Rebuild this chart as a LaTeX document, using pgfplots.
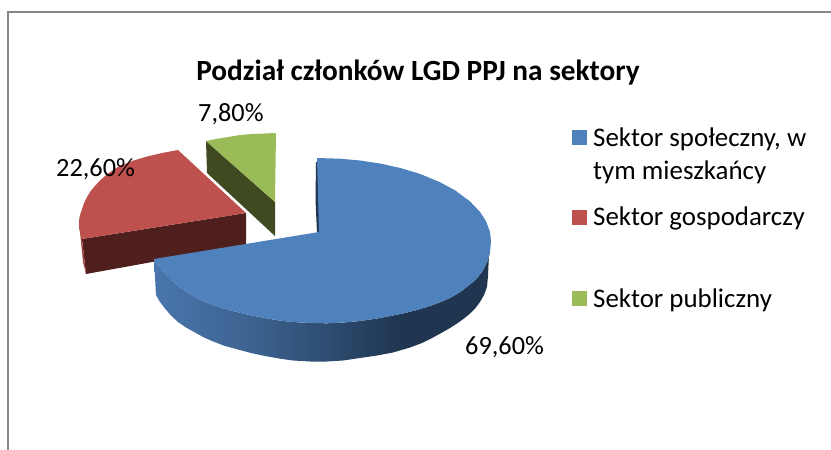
\documentclass[border=0pt]{standalone}
\usepackage{pgfplots}
\pgfplotsset{compat=1.18}
\usepackage{fontspec}
\setmainfont{Carlito}
\definecolor{pblue}{HTML}{4F81BD}
\definecolor{pred}{HTML}{BE504E}
\definecolor{pgreen}{HTML}{9BBB59}
\definecolor{dred}{HTML}{4F1F1E}
\definecolor{mred}{HTML}{A04543}
\definecolor{dgreen}{HTML}{3F4A21}
\definecolor{dblue}{HTML}{1F3550}
\definecolor{frame}{HTML}{868686}
\definecolor{sa}{HTML}{4A76AD}
\definecolor{sb}{HTML}{3B608C}
\definecolor{sc}{HTML}{2D4C70}
\pgfdeclarehorizontalshading{blueside}{100bp}{color(0bp)=(sa); color(25bp)=(sa); color(41bp)=(sb); color(51bp)=(sc); color(62bp)=(dblue); color(100bp)=(dblue)}
\begin{document}
\begin{tikzpicture}
\useasboundingbox (0,0) rectangle (831pt,450pt);
\begin{axis}[at={(0,0)},anchor=south west,scale only axis,width=831pt,height=450pt,
  xmin=0,xmax=831,ymin=0,ymax=450,y dir=reverse,axis lines=none,clip=false]
% frame
\addplot[frame,line width=1.5pt] coordinates {(8,450) (8,12) (831,12)};
% green slice
\addplot[draw=none,fill=dgreen] coordinates {(206,141) (275,202) (275,236) (207,173)} --cycle;
\addplot[draw=none,fill=pgreen] coordinates {(206,141) (216,139) (228,137) (240,135) (252,134) (264,133.5) (276,133) (275,202)} --cycle;
% red slice
\addplot[draw=none,fill=dred] coordinates {(82,239) (246,213) (246,245) (86,274)} --cycle;
\addplot[draw=none,fill=mred] coordinates {(79,222) (82,239) (86,274) (83,262)} --cycle;
\addplot[draw=none,fill=pred] coordinates {(178,150) (246,213) (82,239) (79,228) (79,220) (80,215) (82,209) (84,203) (87,197) (90,192) (94,187) (100,180.5) (108,173.5) (117,167.5) (132,161) (147,156.5) (162,153)} --cycle;
% blue slice
\addplot[draw=none,fill=dblue] coordinates {(316,162) (315.5,200) (317,233) (320,233) (318,162)} --cycle;
\addplot[draw=none,shade,shading=blueside] coordinates {
 (154,259) (158,265) (162,270) (167,275.5) (172,280.5) (178,286) (185,291) (193,296) (202,300.5) (212,304.5) (222,308) (233,311) (245,314) (255,316) (265,318) (279,320.5) (293,322) (310,323) (327,323.3) (344,322.5) (360,321) (377,318.5) (393,315.5) (405,313) (417,310) (425,307.5) (433,305) (442,301.5) (450,298) (457,294) (463,290) (468,286) (473,282) (478,277) (482,272) (485,266) (488,260) (490,252) (490.7,245)
 (489,255) (488.5,265) (488,276) (487,287) (484,295) (480,302) (475.5,308) (470,313.5) (464,318.5) (457,323.5) (450,328) (443,332) (433,337.5) (422,343) (410,347.5) (393,352.5) (377,355.5) (360,358) (343,360.5) (327,361.5) (310,361.5) (293,360.5) (279,358.5) (265,356) (251,353) (238,349.5) (225,346) (212,341) (203,337) (195,332.5) (186,327.5) (178,322) (171,315.5) (165,308.5) (160,302) (156,295)} --cycle;
\addplot[draw=none,fill=pblue] coordinates {
 (317,158) (340,158.7) (360,160.5) (380,163.5) (400,167.9) (420,173.9) (440,182.2) (455,190.3) (470,201.4) (480,211.9) (486,221.2) (490,232) (491,241) (490.7,245) (490,252) (488,260) (485,266) (482,272) (478,277) (473,282) (468,286) (463,290) (457,294) (450,298) (442,301.5) (433,305) (425,307.5) (417,310) (405,313) (393,315.5) (377,318.5) (360,321) (344,322.5) (327,323.3) (310,323) (293,322) (279,320.5) (265,318) (255,316) (245,314) (233,311) (222,308) (212,304.5) (202,300.5) (193,296) (185,291) (178,286) (172,280.5) (167,275.5) (162,270) (158,265) (154,259) (319,232)} --cycle;
% legend keys
\addplot[draw=none,fill=pblue] coordinates {(572,130) (587,130) (587,145) (572,145)} --cycle;
\addplot[draw=none,fill=pred] coordinates {(572,210) (587,210) (587,225) (572,225)} --cycle;
\addplot[draw=none,fill=pgreen] coordinates {(572,291) (587,291) (587,306) (572,306)} --cycle;
% texts
\node[anchor=base,inner sep=0pt,font=\fontsize{29.3}{33}\selectfont\bfseries] at (axis cs:418,80) {Podział członków LGD PPJ na sektory};
\node[anchor=base west,inner sep=0pt,font=\fontsize{26.9}{30}\selectfont] at (axis cs:593,146) {Sektor społeczny, w};
\node[anchor=base west,inner sep=0pt,font=\fontsize{26.9}{30}\selectfont] at (axis cs:593,179) {tym mieszkańcy};
\node[anchor=base west,inner sep=0pt,font=\fontsize{26.9}{30}\selectfont] at (axis cs:593,225) {Sektor gospodarczy};
\node[anchor=base west,inner sep=0pt,font=\fontsize{26.9}{30}\selectfont] at (axis cs:593,307) {Sektor publiczny};
\node[anchor=base west,inner sep=0pt,font=\fontsize{26.3}{30}\selectfont] at (axis cs:198,121) {7,80\%};
\node[anchor=base west,inner sep=0pt,font=\fontsize{26.3}{30}\selectfont] at (axis cs:56,176) {22,60\%};
\node[anchor=base west,inner sep=0pt,font=\fontsize{26.3}{30}\selectfont] at (axis cs:465,354.5) {69,60\%};
\end{axis}
\end{tikzpicture}
\end{document}
